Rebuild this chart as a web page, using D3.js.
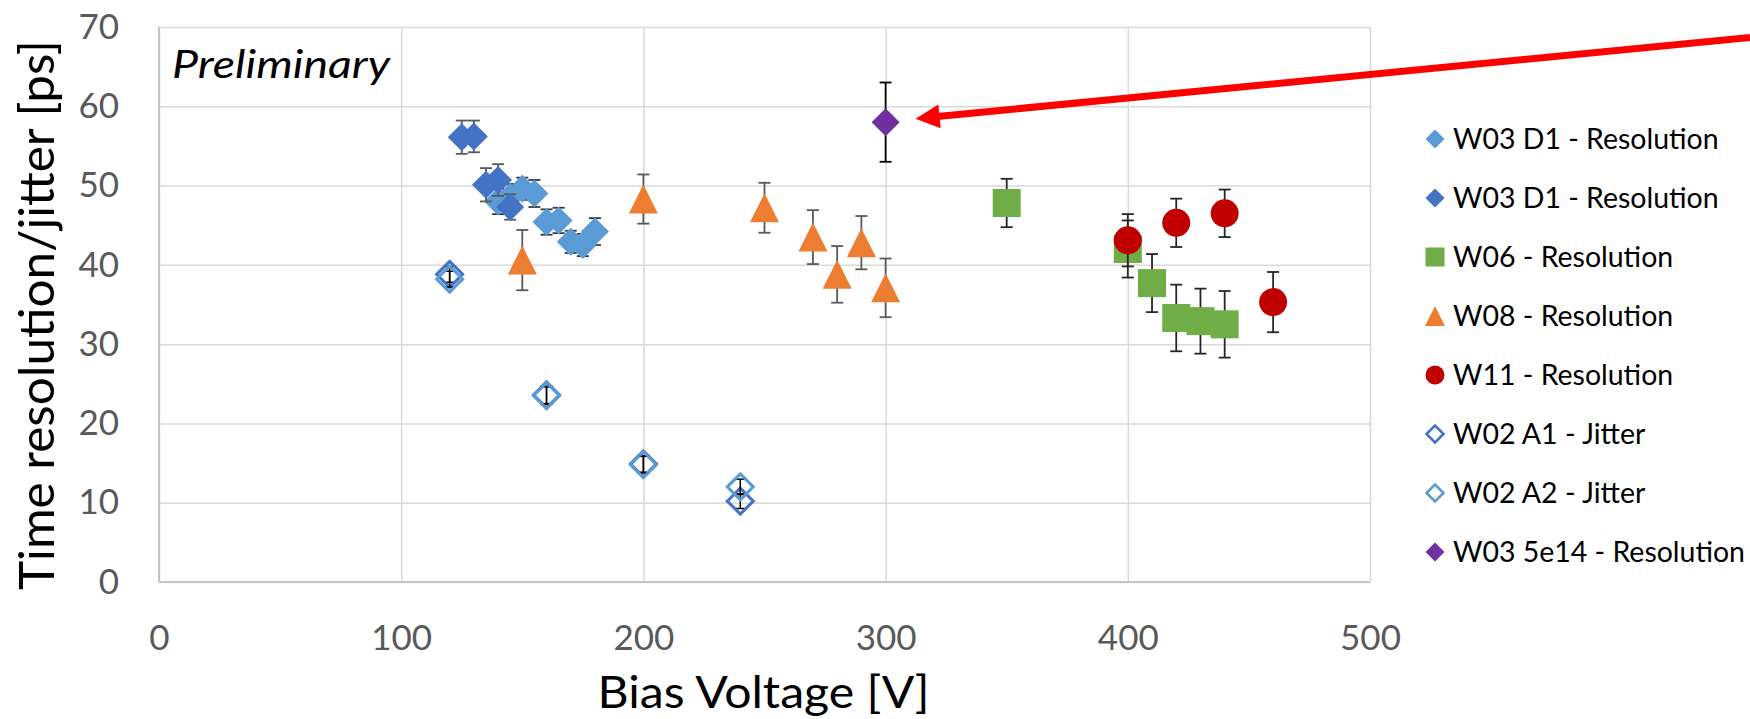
<!DOCTYPE html>
<html>
<head>
<meta charset="utf-8">
<script src="https://cdn.jsdelivr.net/npm/d3@7"></script>
<style>
  html, body { margin: 0; padding: 0; background: #fff; }
  svg { display: block; font-family: Lato, "Open Sans", "Liberation Sans", sans-serif; }
</style>
</head>
<body>
<svg id="chart" width="1750" height="719"></svg>
<script>
// ---- data ----------------------------------------------------------------
const xTicks = [0, 100, 200, 300, 400, 500];
const yTicks = [0, 10, 20, 30, 40, 50, 60, 70];

// W03 D1 - Resolution (light blue)
const w03d1aBias = [140, 145, 150, 155, 160, 165, 170, 175, 180];
const w03d1aTime = [48.0, 48.6, 49.6, 49.0, 45.4, 45.6, 42.9, 42.5, 44.2];
const w03d1aErr  = [1.6, 1.6, 1.4, 1.7, 1.6, 1.6, 1.4, 1.4, 1.7];

// W03 D1 - Resolution (dark blue)
const w03d1bBias = [125, 130, 135, 140, 145];
const w03d1bTime = [56.1, 56.2, 50.1, 50.7, 47.3];
const w03d1bErr  = [2.1, 2.0, 2.1, 2.0, 1.6];

// W06 - Resolution
const w06Bias = [350, 400, 410, 420, 430, 440];
const w06Time = [47.8, 42.0, 37.7, 33.3, 32.9, 32.5];
const w06Err  = [3.05, 3.6, 3.66, 4.2, 4.1, 4.2];

// W08 - Resolution
const w08Bias = [150, 200, 250, 270, 280, 290, 300];
const w08Time = [40.6, 48.3, 47.2, 43.5, 38.8, 42.8, 37.1];
const w08Err  = [3.8, 3.1, 3.15, 3.4, 3.57, 3.36, 3.7];

// W11 - Resolution
const w11Bias = [400, 420, 440, 460];
const w11Time = [43.1, 45.3, 46.5, 35.3];
const w11Err  = [3.3, 3.05, 3.0, 3.8];

// W02 A1 - Jitter
const w02a1Bias = [120, 160, 200, 240];
const w02a1Time = [38.8, 23.6, 14.9, 10.2];
const w02a1Err  = [1.0, 1.1, 1.05, 0.93];

// W02 A2 - Jitter
const w02a2Bias = [120, 160, 200, 240];
const w02a2Time = [38.2, 23.5, 14.8, 12.0];
const w02a2Err  = [1.0, 1.1, 1.05, 0.97];

// W03 5e14 - Resolution
const w03fBias = [300];
const w03fTime = [58.0];
const w03fErr  = [5.0];

const seriesNames = [
  "W03 D1 - Resolution", "W03 D1 - Resolution", "W06 - Resolution",
  "W08 - Resolution", "W11 - Resolution", "W02 A1 - Jitter",
  "W02 A2 - Jitter", "W03 5e14 - Resolution"
];

// ---- series table (drawing order = legend order) -------------------------
const zip = (bx, ty, er) => bx.map((b, i) => ({ x: b, y: ty[i], e: er[i] }));
const series = [
  { name: seriesNames[0], pts: zip(w03d1aBias, w03d1aTime, w03d1aErr), shape: "diamond",  color: "#5B9BD5", filled: true,  errColor: "#3a3a3a" },
  { name: seriesNames[1], pts: zip(w03d1bBias, w03d1bTime, w03d1bErr), shape: "diamond",  color: "#4472C4", filled: true,  errColor: "#595959" },
  { name: seriesNames[2], pts: zip(w06Bias, w06Time, w06Err),          shape: "square",   color: "#70AD47", filled: true,  errColor: "#262626" },
  { name: seriesNames[3], pts: zip(w08Bias, w08Time, w08Err),          shape: "triangle", color: "#ED7D31", filled: true,  errColor: "#595959" },
  { name: seriesNames[4], pts: zip(w11Bias, w11Time, w11Err),          shape: "circle",   color: "#C00000", filled: true,  errColor: "#262626" },
  { name: seriesNames[5], pts: zip(w02a1Bias, w02a1Time, w02a1Err),    shape: "diamond",  color: "#4472C4", filled: false, errColor: "#000000" },
  { name: seriesNames[6], pts: zip(w02a2Bias, w02a2Time, w02a2Err),    shape: "diamond",  color: "#5B9BD5", filled: false, errColor: "#000000" },
  { name: seriesNames[7], pts: zip(w03fBias, w03fTime, w03fErr),       shape: "diamond",  color: "#7030A0", filled: true,  errColor: "#000000" }
];

// ---- layout --------------------------------------------------------------
const W = 1750, H = 719;
const plot = { left: 159, right: 1370, top: 27, bottom: 582 };

const svg = d3.select("#chart");
svg.append("rect").attr("width", W).attr("height", H).attr("fill", "#fff");

const x = d3.scaleLinear().domain([0, 500]).range([plot.left, plot.right]);
const y = d3.scaleLinear().domain([0, 70]).range([plot.bottom, plot.top]);

// ---- marker shapes (size = bounding width in px) -------------------------
const shapes = {
  diamond: { draw(ctx, s) { const r = s / 2; ctx.moveTo(0, -r); ctx.lineTo(r, 0); ctx.lineTo(0, r); ctx.lineTo(-r, 0); ctx.closePath(); } },
  square:  { draw(ctx, s) { const r = s / 2; ctx.rect(-r, -r, s, s); } },
  triangle:{ draw(ctx, s) { const r = s / 2; ctx.moveTo(0, -r); ctx.lineTo(r, r); ctx.lineTo(-r, r); ctx.closePath(); } },
  circle:  { draw(ctx, s) { const r = s / 2; ctx.moveTo(r, 0); ctx.arc(0, 0, r, 0, 2 * Math.PI); } }
};
const markerPath = (shape, s) => d3.symbol().type(shapes[shape]).size(s)();

// ---- gridlines -----------------------------------------------------------
const grid = svg.append("g");
grid.append("g")
  .attr("transform", `translate(0,${plot.bottom})`)
  .call(d3.axisBottom(x).tickValues(xTicks).tickSize(-(plot.bottom - plot.top)).tickFormat(""))
  .call(g => g.select(".domain").remove())
  .call(g => g.selectAll("line").attr("stroke", "#d9d9d9").attr("stroke-width", 1.5));
grid.append("g")
  .attr("transform", `translate(${plot.left},0)`)
  .call(d3.axisLeft(y).tickValues(yTicks).tickSize(-(plot.right - plot.left)).tickFormat(""))
  .call(g => g.select(".domain").remove())
  .call(g => g.selectAll("line").attr("stroke", "#d9d9d9").attr("stroke-width", 1.5));
// axis lines
grid.append("line").attr("x1", plot.left).attr("x2", plot.right)
  .attr("y1", y(0)).attr("y2", y(0)).attr("stroke", "#c4c4c4").attr("stroke-width", 2);
grid.append("line").attr("x1", x(0)).attr("x2", x(0))
  .attr("y1", plot.top).attr("y2", plot.bottom).attr("stroke", "#c4c4c4").attr("stroke-width", 2);

// ---- tick labels ---------------------------------------------------------
svg.append("g")
  .attr("transform", `translate(0,${plot.bottom})`)
  .call(d3.axisBottom(x).tickValues(xTicks).tickSize(0).tickPadding(43).tickFormat(d3.format("d")))
  .call(g => g.select(".domain").remove())
  .call(g => g.selectAll("text").attr("fill", "#595959").attr("font-size", 35).attr("font-family", "Lato, sans-serif"));
svg.append("g")
  .attr("transform", `translate(${plot.left},0)`)
  .call(d3.axisLeft(y).tickValues(yTicks).tickSize(0).tickPadding(40).tickFormat(d3.format("d")))
  .call(g => g.select(".domain").remove())
  .call(g => g.selectAll("text").attr("fill", "#595959").attr("font-size", 35).attr("font-family", "Lato, sans-serif"));

// ---- axis titles ---------------------------------------------------------
function fitText(sel, target) {
  const w = sel.node().getComputedTextLength();
  if (w > 0) sel.attr("textLength", target).attr("lengthAdjust", "spacingAndGlyphs");
}
const xTitle = svg.append("text")
  .attr("x", (plot.left + plot.right) / 2 - 1).attr("y", 708)
  .attr("text-anchor", "middle").attr("font-size", 44).attr("fill", "#000")
  .text("Bias Voltage [V]");
fitText(xTitle, 332);

const yTitle = svg.append("text")
  .attr("transform", `translate(54,315) rotate(-90)`)
  .attr("text-anchor", "middle").attr("font-size", 48).attr("fill", "#000")
  .text("Time resolution/jitter [ps]");
fitText(yTitle, 550);

const prelim = svg.append("text")
  .attr("x", 172).attr("y", 78).attr("font-size", 39).attr("font-style", "italic").attr("fill", "#000")
  .text("Preliminary");
fitText(prelim, 218);

// ---- series: error bars then markers -------------------------------------
const markerSize = { diamond: 28, square: 28, triangle: 29, circle: 28 };
const cap = 6;
series.forEach(s => {
  const g = svg.append("g");
  const eb = g.append("g").attr("stroke", s.errColor).attr("stroke-width", s.filled ? 1.8 : 1.5).attr("fill", "none");
  s.pts.forEach(p => {
    const cx = x(p.x), y1 = y(p.y + p.e), y2 = y(p.y - p.e);
    eb.append("line").attr("x1", cx).attr("x2", cx).attr("y1", y1).attr("y2", y2);
    eb.append("line").attr("x1", cx - cap).attr("x2", cx + cap).attr("y1", y1).attr("y2", y1);
    eb.append("line").attr("x1", cx - cap).attr("x2", cx + cap).attr("y1", y2).attr("y2", y2);
  });
  const size = s.filled ? markerSize[s.shape] : 26;
  g.selectAll("path.mk").data(s.pts).join("path")
    .attr("class", "mk")
    .attr("d", markerPath(s.shape, size))
    .attr("transform", p => `translate(${x(p.x)},${y(p.y)})`)
    .attr("fill", s.filled ? s.color : "none")
    .attr("stroke", s.filled ? "none" : s.color)
    .attr("stroke-width", s.filled ? 0 : 3);
});

// ---- arrow pointing at the irradiated W03 point --------------------------
(function () {
  const target = series[7].pts[0];
  const tip = [x(target.x) + 30, y(target.y) - 3.5];
  const start = [W, 37.5];
  const dx = tip[0] - start[0], dy = tip[1] - start[1];
  const len = Math.hypot(dx, dy);
  const ux = dx / len, uy = dy / len, nx = -uy, ny = ux;
  const headLen = 24, headHalf = 12;
  const base = [tip[0] - ux * headLen, tip[1] - uy * headLen];
  svg.append("line")
    .attr("x1", start[0]).attr("y1", start[1])
    .attr("x2", base[0] + ux * 2).attr("y2", base[1] + uy * 2)
    .attr("stroke", "#FF0000").attr("stroke-width", 7);
  svg.append("path")
    .attr("d", d3.line()([tip, [base[0] + nx * headHalf, base[1] + ny * headHalf], [base[0] - nx * headHalf, base[1] - ny * headHalf]]) + "Z")
    .attr("fill", "#FF0000");
})();

// ---- legend --------------------------------------------------------------
const legend = svg.append("g").attr("transform", "translate(1435,139)");
const rowGap = 59.0;
const legendSize = { diamond: 19, square: 19, triangle: 20, circle: 19 };
let legendScale = null;
series.forEach((s, i) => {
  const row = legend.append("g").attr("transform", `translate(0,${i * rowGap})`);
  row.append("path")
    .attr("d", markerPath(s.shape, s.filled ? legendSize[s.shape] : 17))
    .attr("fill", s.filled ? s.color : "none")
    .attr("stroke", s.filled ? "none" : s.color)
    .attr("stroke-width", s.filled ? 0 : 2.5);
  const t = row.append("text")
    .attr("x", 18).attr("y", 10).attr("font-size", 28).attr("fill", "#000")
    .text(s.name);
  const w = t.node().getComputedTextLength();
  if (legendScale === null) legendScale = 265.6 / w;
  t.attr("textLength", w * legendScale).attr("lengthAdjust", "spacingAndGlyphs");
});
</script>
</body>
</html>
